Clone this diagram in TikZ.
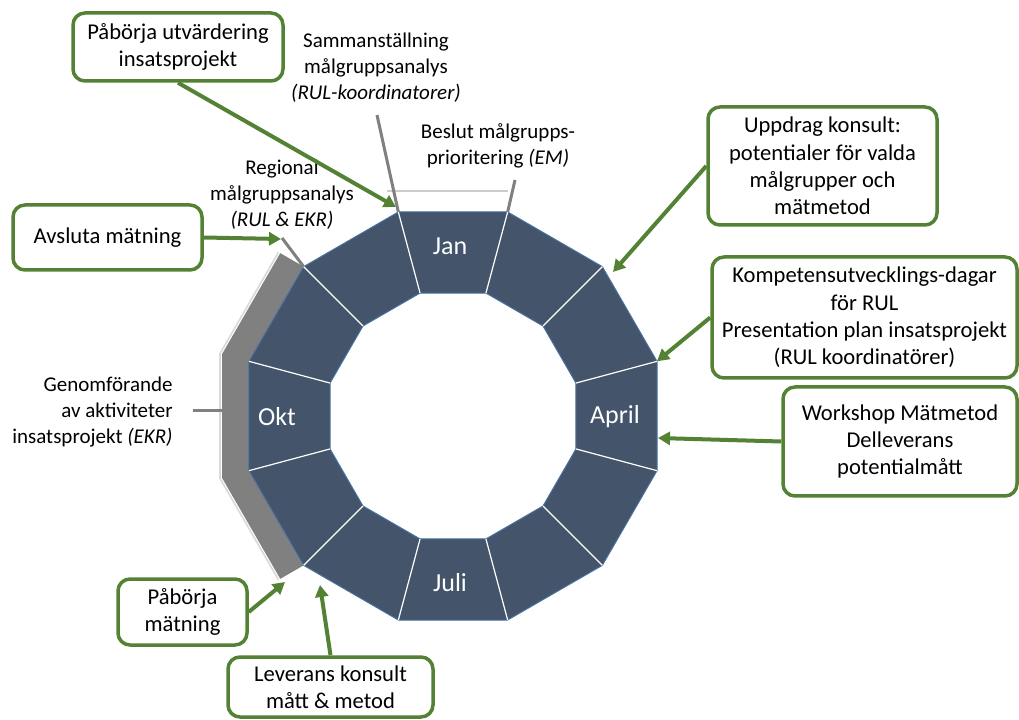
\documentclass[tikz,border=0pt]{standalone}
\usepackage{fontspec}
\setmainfont{Carlito}
\usepackage{tikz}
\usetikzlibrary{arrows.meta, calc, positioning}
\definecolor{ringblue}{HTML}{44546A}
\definecolor{ringedge}{HTML}{4A72A0}
\definecolor{boxgreen}{HTML}{548235}
\definecolor{bargray}{HTML}{808080}
\tikzstyle{arrow} = [line width=2pt, draw=boxgreen, -{Triangle[length=6pt,width=6.5pt]}]
\tikzstyle{event} = [rectangle, rounded corners=6pt, draw=boxgreen, line width=1.75pt, fill=white, align=center, font=\fontsize{11.3}{13.6}\selectfont, inner sep=2pt]
\tikzstyle{note} = [align=center, font=\fontsize{10.5}{13}\selectfont, inner sep=0pt]
\tikzstyle{pointer} = [line width=1.5pt, draw=bargray]
\tikzstyle{month} = [text=white, font=\fontsize{13}{15}\selectfont]

\begin{document}
\begin{tikzpicture}[x=0.5pt, y=0.5pt]
\useasboundingbox (0,0) rectangle (1019,719);
\coordinate (C) at (453,303);

\foreach \i in {0,...,11} {
  \pgfmathsetmacro{\a}{15+30*\i}
  \coordinate (o\i) at ($(C)+(\a:211.2)$);
  \coordinate (n\i) at ($(C)+(\a:127.3)$);
}

% grey bar behind the ring
\fill[bargray] ($(o4)+(150:27)$) -- ($(C)+(165:239.1)$) -- ($(C)+(195:239.1)$)
  -- ($(o7)+(210:27)$) -- (o7) -- (o6) -- (o5) -- (o4) -- cycle;
\draw[gray!30, line width=0.8pt] ($(o4)+(150:29)$) -- ($(C)+(165:241.2)$)
  -- ($(C)+(195:241.2)$) -- ($(o7)+(210:29)$);
\draw[gray!40, line width=0.8pt] (387,528) -- (508,528);

% ring
\foreach \i in {0,...,11} {
  \pgfmathtruncatemacro{\j}{mod(\i+1,12)}
  \fill[ringblue] (o\i) -- (o\j) -- (n\j) -- (n\i) -- cycle;
}
\draw[ringedge, line width=0.5pt] (o0) \foreach \i in {1,...,11} { -- (o\i) } -- cycle;
\draw[ringedge, line width=0.5pt] (n0) \foreach \i in {1,...,11} { -- (n\i) } -- cycle;
\foreach \i in {0,...,11}
  \draw[white, line width=0.6pt] (o\i) -- (n\i);

\node[month] (jan) at (450,473) {Jan};
\node[month] (april) at (615,302) {April};
\node[month] (juli) at (450,136) {Juli};
\node[month] (okt) at (277,302) {Okt};

% grey labels
\node[note] (samman) at (376,651) {Sammanställning\\målgruppsanalys\\\textit{(RUL-koordinatorer)}};
\node[note] (beslut) at (498,573) {Beslut målgrupps-\\prioritering \textit{(EM)}};
\node[note] (regional) at (282,524) {Regional\\målgruppsanalys\\\textit{(RUL \& EKR)}};
\node[note, align=right, anchor=east] (genom) at (173,307) {Genomförande\\av aktiviteter\\insatsprojekt \textit{(EKR)}};

\coordinate (pSamman) at (377,604);
\coordinate (pBeslut) at (515,539);
\coordinate (pRegional) at (282,481);
\coordinate (pGenom) at (193,308);
\coordinate (pBar) at (222,308);
\draw[pointer] (pSamman) -- (o3);
\draw[pointer] (pBeslut) -- (o2);
\draw[pointer] (pRegional) -- (o4);
\draw[pointer] (pGenom) -- (pBar);

% green boxes
\node[event, minimum width=105pt, minimum height=34pt] (utv) at (178,672) {Påbörja utvärdering\\insatsprojekt};
\node[event, minimum width=94.5pt, minimum height=32.5pt] (avsluta) at (107.5,481.5) {Avsluta mätning};
\node[event, minimum width=114.5pt, minimum height=59pt] (uppdrag) at (822.5,553) {Uppdrag konsult:\\potentialer för valda\\målgrupper och\\mätmetod};
\node[event, minimum width=152.5pt, minimum height=60.5pt] (komp) at (864.5,401.5) {Kompetensutvecklings-dagar\\för RUL\\Presentation plan insatsprojekt\\(RUL koordinatörer)};
\node[event, minimum width=117pt, minimum height=54.5pt] (work) at (900,277.5) {Workshop Mätmetod\\Delleverans\\potentialmått};
\node[event, minimum width=64.5pt, minimum height=33pt] (pabmat) at (182.5,107) {Påbörja\\mätning};
\node[event, minimum width=102.5pt, minimum height=30pt] (lev) at (330.5,32) {Leverans konsult\\mått \& metod};

\coordinate (tUtv) at (396,512);
\coordinate (tAvs) at (281,480);
\coordinate (tUpp) at (613,447);
\coordinate (tWork) at (658,281);
\coordinate (tPab) at (285,137);
\coordinate (tLev) at (320,134);
\draw[arrow] (utv.south) -- (tUtv);
\draw[arrow] (avsluta.east) -- (tAvs);
\draw[arrow] (uppdrag.west) -- (tUpp);
\draw[arrow] (komp.west) -- (o0);
\draw[arrow] (work.west) -- (tWork);
\draw[arrow] (pabmat.east) -- (tPab);
\draw[arrow] (lev.north) -- (tLev);

\end{tikzpicture}
\end{document}
